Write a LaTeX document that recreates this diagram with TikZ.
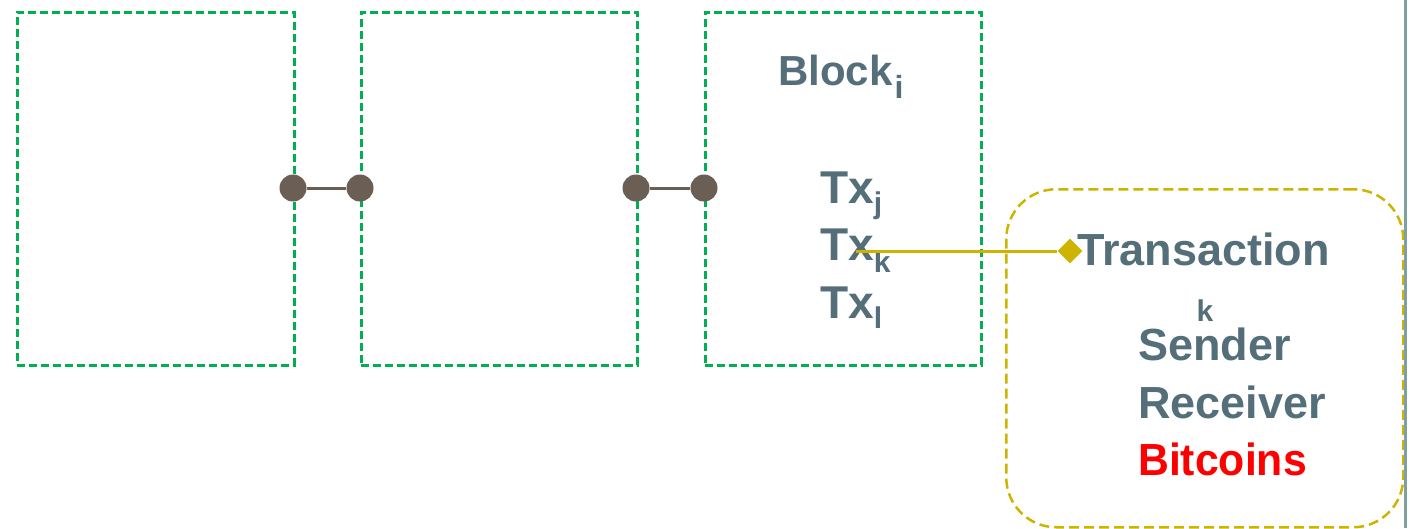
\documentclass[tikz,border=0pt]{standalone}
\usepackage{fontspec}
\setmainfont{Liberation Sans}
\usetikzlibrary{shapes.geometric}
\definecolor{boxgreen}{RGB}{0,176,80}
\definecolor{dotbrown}{RGB}{107,94,85}
\definecolor{txyellow}{RGB}{204,180,0}
\definecolor{txtgray}{RGB}{84,110,122}
\definecolor{edgegray}{RGB}{127,160,160}
\newcommand\mysub[3][10]{\raisebox{-#1pt}{\fontsize{#2}{#2}\selectfont #3}}
\tikzset{
  x=1pt, y=-1pt,
  blockbox/.style={draw=boxgreen, line width=2.5pt, dash pattern=on 8pt off 4pt},
  linkdot/.style={circle, fill=dotbrown, minimum size=27pt, inner sep=0pt},
  linkline/.style={draw=dotbrown, line width=3pt},
  lbl/.style={anchor=base west, inner sep=0pt, text=txtgray, font=\bfseries\fontsize{45}{50}\selectfont},
  txbox/.style={draw=txyellow, line width=2.5pt, dash pattern=on 10pt off 5pt, rounded corners=50pt},
  ptr/.style={draw=txyellow, line width=3pt},
  tip/.style={diamond, fill=txyellow, minimum width=25pt, minimum height=25pt, inner sep=0pt}
}
\begin{document}
\begin{tikzpicture}
\useasboundingbox (0,0) rectangle (1410,528);
% blocks
\node[blockbox, anchor=north west, minimum width=277pt, minimum height=353pt, inner sep=0pt] (b1) at (16,11) {};
\node[blockbox, anchor=north west, minimum width=276pt, minimum height=353pt, inner sep=0pt] (b2) at (360,11) {};
\node[blockbox, anchor=north west, minimum width=276pt, minimum height=353pt, inner sep=0pt] (b3) at (704,11) {};
% links
\node[linkdot] (d1) at (293,188) {};
\node[linkdot] (d2) at (360,188) {};
\node[linkdot] (d3) at (636,188) {};
\node[linkdot] (d4) at (704,188) {};
\draw[linkline] (d1) -- (d2);
\draw[linkline] (d3) -- (d4);
% block text
\node[lbl, font=\bfseries\fontsize{42}{50}\selectfont] (blk) at (778,85) {Block\kern2pt\mysub[13]{32}{i}};
\node[lbl, font=\bfseries\fontsize{46}{50}\selectfont] (txj) at (820,203) {Tx\mysub[10]{30}{j}};
\node[lbl, font=\bfseries\fontsize{46}{50}\selectfont] (txk) at (820,260) {Tx\mysub[12]{30}{k}};
\node[lbl, font=\bfseries\fontsize{46}{50}\selectfont] (txl) at (820,318) {Tx\mysub[10]{30}{l}};
% transaction box
\node[txbox, anchor=north west, minimum width=397pt, minimum height=338pt, inner sep=0pt] (tb) at (1005,188) {};
\node[lbl] (tr) at (1077,265) {Transaction};
\node[anchor=base, inner sep=0pt, text=txtgray, font=\bfseries\fontsize{30}{30}\selectfont] (trk) at (1205,321) {k};
\node[lbl] (snd) at (1138,360) {Sender};
\node[lbl] (rcv) at (1138,418) {Receiver};
\node[lbl, text=red] (btc) at (1138,475) {\addfontfeature{FakeStretch=0.95}Bitcoins};
% pointer
\coordinate (txkpt) at (856,251);
\node[tip] (dm) at (1070,251) {};
\draw[ptr] (txkpt) -- (dm);
% right edge line
\coordinate (et) at (1405,0);
\coordinate (eb) at (1405,528);
\draw[draw=edgegray, line width=3pt] (et) -- (eb);
\end{tikzpicture}
\end{document}
